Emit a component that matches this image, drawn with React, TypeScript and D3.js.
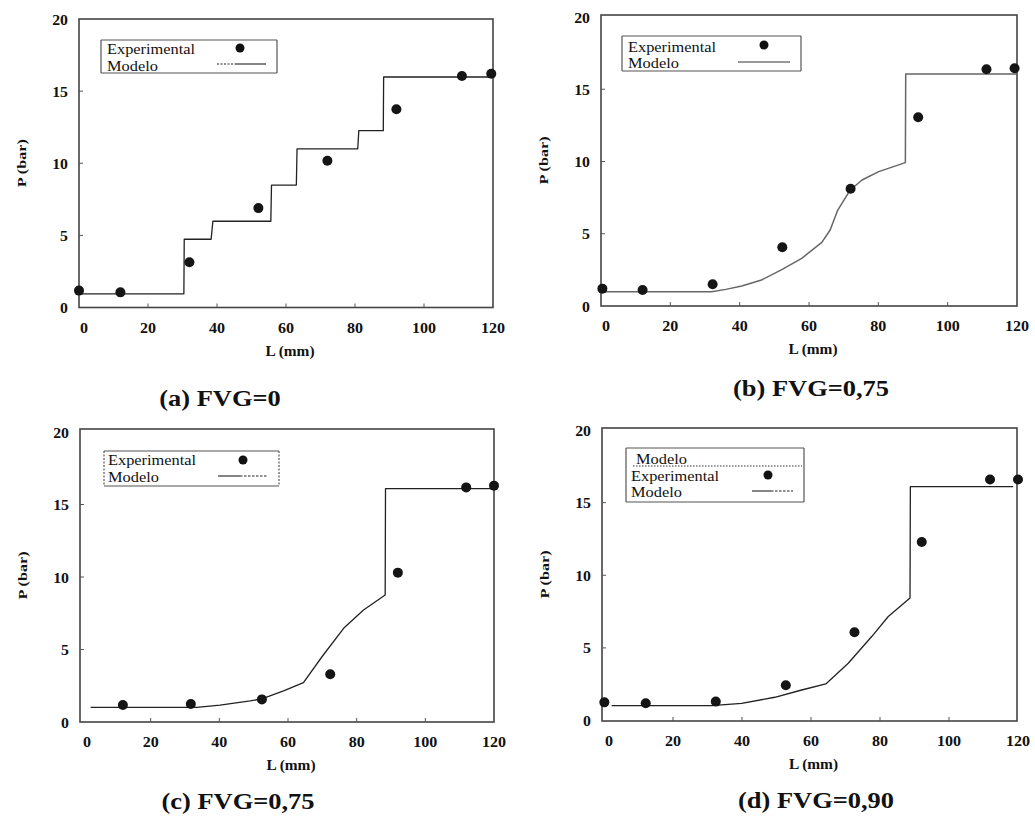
import React from "react";
import * as d3 from "d3";

const FONT = '"Liberation Serif", "Times New Roman", Times, serif';

// Axis ticks (L in mm, P in bar)
const X_TICKS = [0, 20, 40, 60, 80, 100, 120];
const Y_TICKS = [0, 5, 10, 15, 20];

// (a) FVG=0
const EXP_L_A = [0, 12, 32, 52, 72, 92, 111, 119.5];
const EXP_P_A = [1.17, 1.05, 3.14, 6.89, 10.17, 13.74, 16.05, 16.21];
const MOD_L_A = [0, 30.4, 30.5, 38.3, 38.8, 55.6, 55.8, 63.0, 63.2, 80.8, 81.1, 88.2, 88.3, 120];
const MOD_P_A = [0.95, 0.95, 4.73, 4.73, 5.98, 5.98, 8.49, 8.49, 11.0, 11.0, 12.26, 12.26, 15.98, 15.98];

// (b) FVG=0,75
const EXP_L_B = [0.4, 12, 32.2, 52.3, 72, 91.5, 111.2, 119.3];
const EXP_P_B = [1.2, 1.11, 1.5, 4.06, 8.11, 13.06, 16.38, 16.45];
const MOD_L_B = [0, 31.9, 36, 40.6, 46.3, 52.0, 57.9, 63.7, 66.1, 68.3, 70.4, 71.9, 75.3, 80.1, 87.8, 87.9, 120];
const MOD_P_B = [0.98, 0.98, 1.15, 1.38, 1.8, 2.5, 3.3, 4.4, 5.26, 6.64, 7.45, 8.03, 8.72, 9.3, 9.92, 16.06, 16.06];

// (c) FVG=0,75
const EXP_L_C = [11.9, 31.7, 52.4, 72.3, 92, 111.9, 120];
const EXP_P_C = [1.17, 1.24, 1.56, 3.29, 10.3, 16.18, 16.3];
const MOD_L_C = [2.5, 33.4, 40.2, 49, 52.4, 58.7, 64.5, 69.9, 76.2, 82, 88.3, 88.4, 120];
const MOD_P_C = [1.01, 1.01, 1.17, 1.45, 1.6, 2.14, 2.71, 4.5, 6.46, 7.72, 8.76, 16.1, 16.1];

// (d) FVG=0,90
const EXP_L_D = [0.1, 12.1, 32.4, 52.7, 72.6, 92.1, 111.9, 120];
const EXP_P_D = [1.25, 1.19, 1.3, 2.43, 6.08, 12.29, 16.59, 16.59];
const MOD_L_D = [2.2, 31.2, 39.9, 49.5, 57.3, 64.3, 70.8, 77.6, 82.4, 88.7, 88.8, 118.6];
const MOD_P_D = [1.02, 1.02, 1.18, 1.6, 2.1, 2.52, 3.94, 5.78, 7.16, 8.43, 16.1, 16.1];

type Pt = [number, number];
const zip = (xs: number[], ys: number[]): Pt[] => xs.map((x, i) => [x, ys[i]]);

type LegendRow = {
  label: string;
  tx: number;
  ty: number;
  mark:
    | { type: "dot"; x: number; y: number }
    | { type: "line"; x1: number; x2: number; y: number; split?: number; dashFirst?: boolean; color?: string }
    | { type: "dotted"; x1: number; x2: number; y: number };
};

type Panel = {
  title: string;
  titleX: number;
  titleY: number;
  frame: { l: number; r: number; t: number; b: number };
  xRange: [number, number];
  yRange: [number, number];
  exp: Pt[];
  model: Pt[];
  modelColor: string;
  modelWidth: number;
  legendBox: { x: number; y: number; w: number; h: number; dashedSides?: boolean };
  legend: LegendRow[];
};

const PANELS: Panel[] = [
  {
    title: "(a) FVG=0",
    titleX: 220,
    titleY: 406,
    frame: { l: 79, r: 493, t: 19, b: 307.5 },
    xRange: [79, 493],
    yRange: [307.5, 19],
    exp: zip(EXP_L_A, EXP_P_A),
    model: zip(MOD_L_A, MOD_P_A),
    modelColor: "#222",
    modelWidth: 1.3,
    legendBox: { x: 101, y: 40, w: 176, h: 33 },
    legend: [
      { label: "Experimental", tx: 107, ty: 54, mark: { type: "dot", x: 240, y: 48 } },
      { label: "Modelo", tx: 107, ty: 70.5, mark: { type: "line", x1: 217, x2: 266, y: 64, split: 235, dashFirst: true } },
    ],
  },
  {
    title: "(b) FVG=0,75",
    titleX: 811,
    titleY: 396,
    frame: { l: 601, r: 1017, t: 15, b: 306 },
    xRange: [601, 1017],
    yRange: [306, 17],
    exp: zip(EXP_L_B, EXP_P_B),
    model: zip(MOD_L_B, MOD_P_B),
    modelColor: "#666",
    modelWidth: 1.5,
    legendBox: { x: 622, y: 36, w: 179, h: 35 },
    legend: [
      { label: "Experimental", tx: 628, ty: 52, mark: { type: "dot", x: 764, y: 45 } },
      { label: "Modelo", tx: 628, ty: 68, mark: { type: "line", x1: 738, x2: 790, y: 62, color: "#777" } },
    ],
  },
  {
    title: "(c) FVG=0,75",
    titleX: 238,
    titleY: 809,
    frame: { l: 80, r: 494, t: 429, b: 722 },
    xRange: [82, 494],
    yRange: [722, 432],
    exp: zip(EXP_L_C, EXP_P_C),
    model: zip(MOD_L_C, MOD_P_C),
    modelColor: "#222",
    modelWidth: 1.3,
    legendBox: { x: 104, y: 451, w: 175, h: 35, dashedSides: true },
    legend: [
      { label: "Experimental", tx: 108, ty: 465, mark: { type: "dot", x: 243, y: 460 } },
      { label: "Modelo", tx: 108, ty: 482, mark: { type: "line", x1: 218, x2: 268, y: 476, split: 240 } },
    ],
  },
  {
    title: "(d) FVG=0,90",
    titleX: 816,
    titleY: 808,
    frame: { l: 602, r: 1017, t: 428, b: 721 },
    xRange: [604, 1018],
    yRange: [720.5, 430],
    exp: zip(EXP_L_D, EXP_P_D),
    model: zip(MOD_L_D, MOD_P_D),
    modelColor: "#222",
    modelWidth: 1.3,
    legendBox: { x: 626, y: 448, w: 178, h: 54 },
    legend: [
      { label: "Modelo", tx: 636, ty: 464, mark: { type: "dotted", x1: 633, x2: 802, y: 466 } },
      { label: "Experimental", tx: 631, ty: 481, mark: { type: "dot", x: 768, y: 475 } },
      { label: "Modelo", tx: 631, ty: 497, mark: { type: "line", x1: 752, x2: 793, y: 491, split: 771 } },
    ],
  },
];

// Text with a horizontal stretch, positioned by translate
function T(props: {
  x: number;
  y: number;
  size: number;
  sx?: number;
  rotate?: number;
  weight?: string;
  anchor?: "start" | "middle" | "end";
  children: React.ReactNode;
}) {
  const { x, y, size, sx = 1, rotate = 0, weight = "normal", anchor = "start", children } = props;
  return (
    <text
      transform={`translate(${x},${y}) rotate(${rotate}) scale(${sx},1)`}
      fontFamily={FONT}
      fontSize={size}
      fontWeight={weight}
      textAnchor={anchor}
      fill="#111"
    >
      {children}
    </text>
  );
}

function ChartPanel({ p }: { p: Panel }) {
  const x = d3.scaleLinear().domain([0, 120]).range(p.xRange);
  const y = d3.scaleLinear().domain([0, 20]).range(p.yRange);
  const line = d3
    .line<Pt>()
    .x((d) => x(d[0]))
    .y((d) => y(d[1]));
  const { l, r, t, b } = p.frame;
  const lb = p.legendBox;

  return (
    <g>
      {/* plot frame */}
      <rect x={l} y={t} width={r - l} height={b - t} fill="none" stroke="#444" strokeWidth={1.6} />

      {/* inner ticks */}
      {X_TICKS.slice(1, -1).map((v) => (
        <line key={"xt" + v} x1={x(v)} x2={x(v)} y1={b} y2={b - 4} stroke="#555" strokeWidth={1} />
      ))}
      {Y_TICKS.slice(1, -1).map((v) => (
        <line key={"yt" + v} x1={l} x2={l + 4} y1={y(v)} y2={y(v)} stroke="#555" strokeWidth={1} />
      ))}

      {/* tick labels */}
      {X_TICKS.map((v, i) => (
        <T key={"xl" + v} x={x(v) + (i === 0 ? 5 : 0)} y={b + 25} size={15} sx={1.07} weight="bold" anchor="middle">
          {v}
        </T>
      ))}
      {Y_TICKS.map((v) => (
        <T key={"yl" + v} x={l - 11} y={y(v) + 5.5} size={15.5} sx={1.02} weight="bold" anchor="end">
          {v}
        </T>
      ))}

      {/* axis titles */}
      <T x={(l + r) / 2 + 4} y={b + 48} size={14} sx={1.1} weight="bold" anchor="middle">
        L (mm)
      </T>
      <T x={l - 53} y={(t + b) / 2} size={12} sx={1.35} rotate={-90} weight="bold" anchor="middle">
        P (bar)
      </T>

      {/* model curve */}
      <path d={line(p.model) ?? ""} fill="none" stroke={p.modelColor} strokeWidth={p.modelWidth} strokeLinejoin="round" />

      {/* experimental points */}
      {p.exp.map((d, i) => (
        <circle key={"e" + i} cx={x(d[0])} cy={y(d[1])} r={5} fill="#151515" />
      ))}

      {/* legend */}
      <rect x={lb.x} y={lb.y} width={lb.w} height={lb.h} fill="#fff" stroke="none" />
      <line x1={lb.x} x2={lb.x + lb.w} y1={lb.y} y2={lb.y} stroke="#555" strokeWidth={1.2} />
      <line x1={lb.x} x2={lb.x + lb.w} y1={lb.y + lb.h} y2={lb.y + lb.h} stroke="#555" strokeWidth={1.2} />
      <line
        x1={lb.x}
        x2={lb.x}
        y1={lb.y}
        y2={lb.y + lb.h}
        stroke="#555"
        strokeWidth={1.2}
        strokeDasharray={lb.dashedSides ? "2,1.5" : undefined}
      />
      <line
        x1={lb.x + lb.w}
        x2={lb.x + lb.w}
        y1={lb.y}
        y2={lb.y + lb.h}
        stroke="#555"
        strokeWidth={1.2}
        strokeDasharray={lb.dashedSides ? "2,1.5" : undefined}
      />
      {p.legend.map((row, i) => {
        const m = row.mark;
        let mark: React.ReactNode = null;
        if (m.type === "dot") {
          mark = <circle cx={m.x} cy={m.y} r={4.5} fill="#111" />;
        } else if (m.type === "dotted") {
          mark = <line x1={m.x1} x2={m.x2} y1={m.y} y2={m.y} stroke="#333" strokeWidth={1} strokeDasharray="1.5,1.5" />;
        } else {
          const c = m.color ?? "#222";
          if (m.split !== undefined) {
            const first = m.dashFirst;
            mark = (
              <g>
                <line x1={m.x1} x2={m.split} y1={m.y} y2={m.y} stroke={c} strokeWidth={1.1} strokeDasharray={first ? "2,1.5" : undefined} />
                <line x1={m.split} x2={m.x2} y1={m.y} y2={m.y} stroke={c} strokeWidth={1.1} strokeDasharray={first ? undefined : "2.5,1.5"} />
              </g>
            );
          } else {
            mark = <line x1={m.x1} x2={m.x2} y1={m.y} y2={m.y} stroke={c} strokeWidth={1.4} />;
          }
        }
        return (
          <g key={"lg" + i}>
            <T x={row.tx} y={row.ty} size={14} sx={1.17}>
              {row.label}
            </T>
            {mark}
          </g>
        );
      })}

      {/* panel caption */}
      <T x={p.titleX} y={p.titleY} size={23} sx={1.15} weight="bold" anchor="middle">
        {p.title}
      </T>
    </g>
  );
}

export default function App() {
  return (
    <svg
      width={1035}
      height={823}
      viewBox="0 0 1035 823"
      style={{ position: "absolute", left: 0, top: 0, background: "#fff" }}
    >
      <rect x={0} y={0} width={1035} height={823} fill="#fff" />
      {PANELS.map((p, i) => (
        <ChartPanel key={i} p={p} />
      ))}
    </svg>
  );
}
